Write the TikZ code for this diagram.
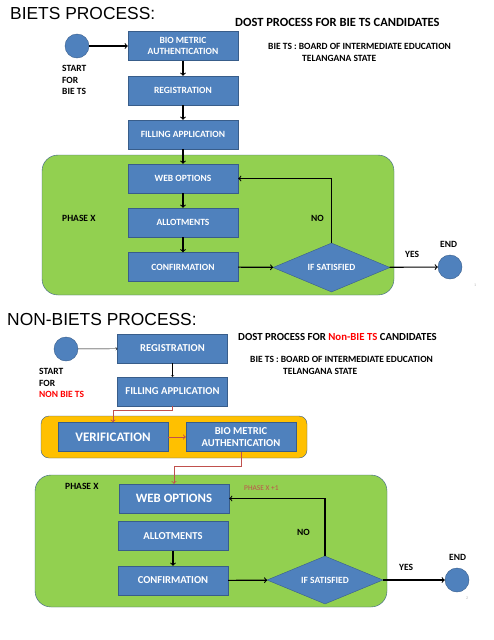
\documentclass[tikz,border=0pt]{standalone}
\usepackage{fontspec}
\setmainfont{Carlito}
\newfontfamily\arialfont{Liberation Sans}
\usepackage{xcolor}
\usetikzlibrary{shapes,arrows,positioning}
\tikzset{>=to}
\definecolor{boxblue}{HTML}{4F81BD}
\definecolor{boxedge}{HTML}{385D8A}
\definecolor{phasegreen}{HTML}{92D050}
\definecolor{verifyellow}{HTML}{FFC000}
\definecolor{linkred}{HTML}{C0504D}
\newcommand{\redtxt}[1]{\textcolor{red}{#1}}

\begin{document}
\begin{tikzpicture}[x=1pt,y=-1pt,
                    procbox/.style={draw=boxedge, fill=boxblue, text=white, inner sep=0pt,
                                    minimum width=110pt, minimum height=29pt, align=center,
                                    font=\bfseries\fontsize{9.5}{11}\selectfont},
                    bigbox/.style={procbox, font=\bfseries\fontsize{13}{15}\selectfont},
                    decision/.style={diamond, draw=boxedge, fill=boxblue, text=white, inner sep=0pt,
                                     aspect=2.4, minimum width=117pt, minimum height=49pt,
                                     font=\bfseries\fontsize{9.5}{11}\selectfont},
                    terminal/.style={circle, draw=boxedge, fill=boxblue, minimum size=24pt, inner sep=0pt},
                    phase/.style={draw=boxedge, fill=phasegreen, rounded corners=16pt},
                    label/.style={anchor=west, inner sep=0pt, align=left,
                                  font=\bfseries\fontsize{9.5}{11.5}\selectfont},
                    title/.style={anchor=west, inner sep=0pt, font=\arialfont\fontsize{17.4}{20}\selectfont},
                    flow/.style={->, line width=1.1pt, black},
                    redflow/.style={->, line width=0.9pt, linkred},
                   ]

\useasboundingbox (0,0) rectangle (494,640);

% BIETS process
\node[title] (title1) at (10,14) {BIETS PROCESS:};
\node[label, font=\bfseries\fontsize{12.5}{14}\selectfont] (dost1) at (235,22) {DOST PROCESS FOR BIE TS CANDIDATES};
\node[label] (bie1) at (268,46) {BIE TS : BOARD OF INTERMEDIATE EDUCATION};
\node[label] (tel1) at (302,58) {TELANGANA STATE};

\draw[phase] (42,155) rectangle (394,295);

\node[terminal] (start1) at (77,46) {};
\node[label] (starttxt1) at (62,80) {START\\FOR\\BIE TS};
\node[procbox] (bio1) at (183,46) {BIO METRIC\\AUTHENTICATION};
\node[procbox] (reg1) at (183,90.5) {REGISTRATION};
\node[procbox] (fill1) at (183,134.5) {FILLING APPLICATION};
\node[procbox] (web1) at (183,178.5) {WEB OPTIONS};
\node[procbox] (allot1) at (183,222.5) {ALLOTMENTS};
\node[procbox] (conf1) at (183,267) {CONFIRMATION};
\node[decision] (sat1) at (331.5,267.5) {IF SATISFIED};
\node[terminal] (end1) at (450,267) {};

\node[label] (phase1) at (62,218) {PHASE X};
\node[label] (no1) at (311,218) {NO};
\node[label] (yes1) at (405,254) {YES};
\node[label] (endtxt1) at (440,244) {END};
\node[label, font=\fontsize{4}{5}\selectfont, text=gray!60] (page1) at (474,285) {1};

\draw[flow] (start1) -- (bio1);
\draw[flow] (bio1) -- (reg1);
\draw[flow] (reg1) -- (fill1);
\draw[flow] (fill1) -- (web1);
\draw[flow] (web1) -- (allot1);
\draw[flow] (allot1) -- (conf1);
\draw[flow] (conf1) -- (sat1);
\draw[flow] (sat1.north) |- (web1.east);
\draw[flow] (sat1) -- (end1);

% NON-BIETS process
\node[title] (title2) at (7,320) {NON-BIETS PROCESS:};
\node[label, font=\bfseries\fontsize{10.8}{12}\selectfont] (dost2) at (238,337) {DOST PROCESS FOR \redtxt{Non-BIE TS} CANDIDATES};
\node[label] (bie2) at (250,359) {BIE TS : BOARD OF INTERMEDIATE EDUCATION};
\node[label] (tel2) at (283,371) {TELANGANA STATE};

\draw[draw=boxedge, fill=verifyellow, rounded corners=8pt] (41,416) rectangle (307,458);
\draw[phase] (35,475) rectangle (387,607);

\node[terminal] (start2) at (66,349) {};
\node[label] (starttxt2) at (39,383) {START\\FOR\\\redtxt{NON BIE TS}};
\node[procbox, font=\bfseries\fontsize{10.6}{12.5}\selectfont] (reg2) at (172.5,348.5) {REGISTRATION};
\node[procbox, font=\bfseries\fontsize{10.6}{12.5}\selectfont] (fill2) at (172.5,391.5) {FILLING APPLICATION};
\node[bigbox] (verif) at (113,437) {VERIFICATION};
\node[procbox, font=\bfseries\fontsize{10.6}{12.5}\selectfont] (bio2) at (241,437) {BIO METRIC\\AUTHENTICATION};
\node[bigbox, font=\bfseries\fontsize{12.8}{15}\selectfont] (web2) at (174,498.5) {WEB OPTIONS};
\node[procbox, font=\bfseries\fontsize{10.6}{12.5}\selectfont] (allot2) at (173,536) {ALLOTMENTS};
\node[procbox, font=\bfseries\fontsize{10.6}{12.5}\selectfont] (conf2) at (173,580.5) {CONFIRMATION};
\node[decision, minimum width=116pt, minimum height=48pt] (sat2) at (325,580) {IF SATISFIED};
\node[terminal] (end2) at (457,580) {};

\node[label] (phase2) at (65,486) {PHASE X};
\node[label, font=\fontsize{7.4}{9}\selectfont, text=linkred] (phase2b) at (244,488) {PHASE X +1};
\node[label] (no2) at (297,532) {NO};
\node[label] (yes2) at (399,567) {YES};
\node[label] (endtxt2) at (449,557) {END};
\node[label, font=\fontsize{4}{5}\selectfont, text=gray!60] (page2) at (466,598) {2};

\draw[->, thin] (start2) -- (reg2);
\draw[->, thin] (reg2) -- (fill2);
\draw[redflow] (fill2.south) -- ++(0,4) -| (verif.north);
\draw[redflow] (verif) -- (bio2);
\draw[redflow] (bio2.south) -- ++(0,15) -| (web2.north);
\draw[flow] (allot2) -- (conf2);
\draw[flow] (conf2) -- (sat2);
\draw[flow] (sat2.north) |- (web2.east);
\draw[flow] (sat2) -- (end2);

\end{tikzpicture}
\end{document}
